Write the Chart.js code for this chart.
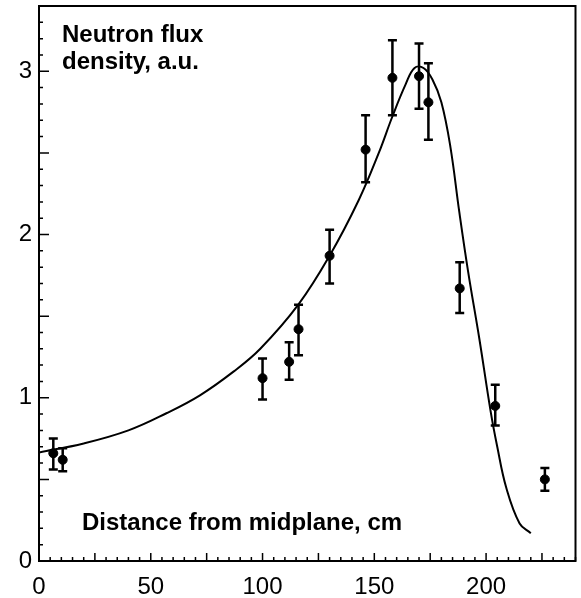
<!DOCTYPE html>
<html>
<head>
<meta charset="utf-8">
<script src="https://cdn.jsdelivr.net/npm/chart.js@4"></script>
<style>
  body { margin: 0; background: #fff; }
  #wrap { width: 581px; height: 598px; position: relative; }
</style>
</head>
<body>
<div id="wrap"><canvas id="flux-chart"></canvas></div>
<script>
/* measured points */
const pointX = [6.4, 10.6, 100, 111.9, 116.1, 130, 146.1, 158.1, 170, 174.2, 188.2, 204.1, 226.3];
const pointY = [0.66, 0.62, 1.12, 1.22, 1.42, 1.87, 2.52, 2.96, 2.97, 2.81, 1.67, 0.95, 0.50];
const errHigh = [0.75, 0.69, 1.24, 1.34, 1.57, 2.03, 2.73, 3.19, 3.17, 3.05, 1.83, 1.08, 0.57];
const errLow = [0.56, 0.55, 0.99, 1.11, 1.26, 1.70, 2.32, 2.73, 2.77, 2.58, 1.52, 0.83, 0.43];

/* calculated curve */
const curveX = [0, 20, 40, 57, 72, 87, 99, 116, 130, 143, 152, 158, 164, 168, 172, 176, 180, 184, 188, 192, 197, 202, 205, 209, 215, 220];
const curveY = [0.665, 0.72, 0.80, 0.905, 1.015, 1.16, 1.30, 1.57, 1.87, 2.21, 2.50, 2.72, 2.92, 3.02, 3.02, 2.95, 2.81, 2.54, 2.14, 1.77, 1.36, 0.92, 0.70, 0.45, 0.23, 0.17];

/* axis labels */
const xTicks = [0, 50, 100, 150, 200];
const yTicks = [0, 1, 2, 3];

const FONT = "'Liberation Sans', Arial, sans-serif";

const frame = {
  id: 'frame',
  beforeDatasetsDraw(chart) {
    const { ctx, scales: { x, y } } = chart;
    ctx.save();
    ctx.strokeStyle = '#000';
    ctx.lineWidth = 2.5;
    pointX.forEach((v, i) => {
      const px = x.getPixelForValue(v);
      const top = y.getPixelForValue(errHigh[i]);
      const bot = y.getPixelForValue(errLow[i]);
      ctx.beginPath();
      ctx.moveTo(px, top); ctx.lineTo(px, bot);
      ctx.moveTo(px - 4.5, top); ctx.lineTo(px + 4.5, top);
      ctx.moveTo(px - 4.5, bot); ctx.lineTo(px + 4.5, bot);
      ctx.stroke();
    });
    ctx.restore();
  },
  afterDraw(chart) {
    const { ctx, chartArea: a, scales: { x, y } } = chart;
    ctx.save();
    ctx.strokeStyle = '#000';
    ctx.lineWidth = 1.5;
    ctx.beginPath();
    for (let v = 0; v <= 240; v += 5) {
      const px = x.getPixelForValue(v);
      const len = v % 25 === 0 ? 8 : 4;
      ctx.moveTo(px, a.bottom); ctx.lineTo(px, a.bottom - len);
    }
    for (let i = 0; i <= 34; i++) {
      const py = y.getPixelForValue(i / 10);
      const len = i % 5 === 0 ? 10 : 4;
      ctx.moveTo(a.left, py); ctx.lineTo(a.left + len, py);
    }
    ctx.stroke();
    ctx.lineWidth = 2;
    ctx.strokeRect(a.left, a.top, a.right - a.left, a.bottom - a.top);

    ctx.fillStyle = '#000';
    ctx.font = 'bold 24px ' + FONT;
    ctx.textBaseline = 'alphabetic';
    ctx.fillText('Neutron flux', 62, 42);
    ctx.fillText('density, a.u.', 62, 69);
    ctx.fillText('Distance from midplane, cm', 82, 530);
    ctx.restore();
  }
};

new Chart(document.getElementById('flux-chart'), {
  type: 'scatter',
  data: {
    datasets: [{
      data: curveX.map((v, i) => ({ x: v, y: curveY[i] })),
      showLine: true,
      borderColor: '#000',
      borderWidth: 2,
      pointRadius: 0,
      tension: 0.4
    }, {
      data: pointX.map((v, i) => ({ x: v, y: pointY[i] })),
      backgroundColor: '#000',
      borderColor: '#000',
      pointRadius: 4.5
    }]
  },
  options: {
    responsive: true,
    maintainAspectRatio: false,
    animation: false,
    layout: { padding: { left: 0, top: 6, right: 5, bottom: 0 } },
    plugins: { legend: { display: false }, tooltip: { enabled: false } },
    scales: {
      x: {
        min: 0, max: 240,
        grid: { display: false, drawTicks: false },
        border: { display: false },
        afterBuildTicks: s => { s.ticks = xTicks.map(v => ({ value: v })); },
        afterFit: s => { s.height = 37; s.paddingLeft = 0; s.paddingRight = 0; },
        ticks: { color: '#000', padding: 12, maxRotation: 0, font: { family: FONT, size: 24 } }
      },
      y: {
        min: 0, max: 3.4,
        grid: { display: false, drawTicks: false },
        border: { display: false },
        afterBuildTicks: s => { s.ticks = yTicks.map(v => ({ value: v })); },
        afterFit: s => { s.width = 39; s.paddingTop = 0; s.paddingBottom = 0; },
        ticks: { color: '#000', padding: 7, font: { family: FONT, size: 24 } }
      }
    }
  },
  plugins: [frame]
});
</script>
</body>
</html>
